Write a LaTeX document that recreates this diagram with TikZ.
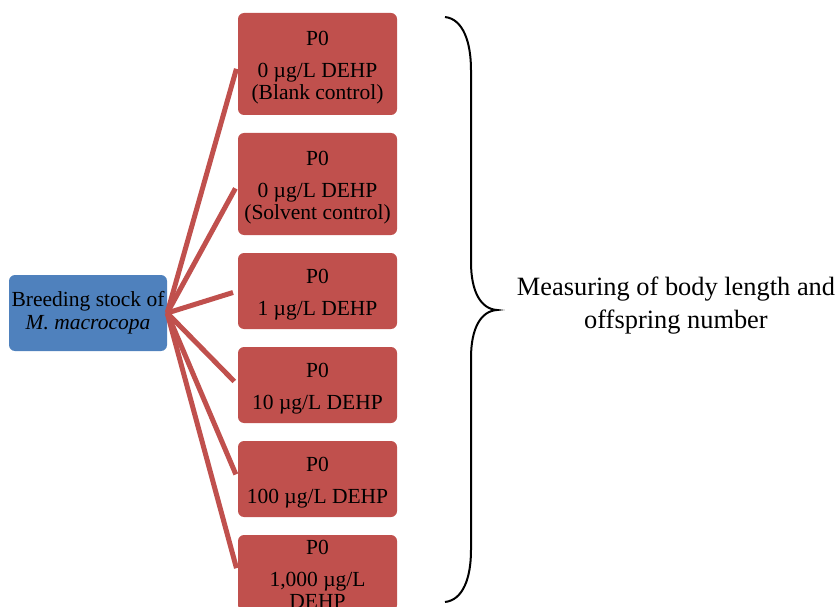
\documentclass[tikz,border=0pt]{standalone}
\usepackage{fontspec}
\setmainfont{Liberation Serif}
\definecolor{boxred}{HTML}{C0504D}
\definecolor{boxblue}{HTML}{4F81BD}
\begin{document}
\begin{tikzpicture}[x=1pt,y=-1pt,
  redbox/.style={fill=boxred, rounded corners=6pt, minimum width=159pt, inner sep=0pt},
  boxtext/.style={inner sep=0pt, align=center, font=\fontsize{21.5}{22}\selectfont},
  bluebox/.style={fill=boxblue, rounded corners=6pt, minimum width=158pt, minimum height=76pt, inner sep=0pt, align=center, font=\fontsize{21.5}{23}\selectfont},
  conn/.style={draw=boxred, line width=5pt, shorten >=5pt},
  brace/.style={draw=black, line width=2pt}]
\useasboundingbox (0,0) rectangle (836,607);
\node[bluebox] (src) at (88,313) {Breeding stock of\\\textit{M. macrocopa}};
\node[redbox, minimum height=102pt] (b1) at (317.5,64) {};
\node[redbox, minimum height=102pt] (b2) at (317.5,184) {};
\node[redbox, minimum height=76pt] (b3) at (317.5,291) {};
\node[redbox, minimum height=76pt] (b4) at (317.5,385) {};
\node[redbox, minimum height=76pt] (b5) at (317.5,479) {};
\node[redbox, minimum height=76pt] (b6) at (317.5,573) {};
\node[boxtext] (t1) at ([yshift=-4pt]b1.center) {P0\\[10pt]0 µg/L DEHP\\(Blank control)};
\node[boxtext] (t2) at ([yshift=-4pt]b2.center) {P0\\[10pt]0 µg/L DEHP\\(Solvent control)};
\node[boxtext] (t3) at ([yshift=-4pt]b3.center) {P0\\[10pt]1 µg/L DEHP};
\node[boxtext] (t4) at ([yshift=-4pt]b4.center) {P0\\[10pt]10 µg/L DEHP};
\node[boxtext] (t5) at ([yshift=-4pt]b5.center) {P0\\[10pt]100 µg/L DEHP};
\node[boxtext] (t6) at ([yshift=-1pt]b6.center) {P0\\[10pt]1,000 µg/L\\DEHP};
\foreach \b in {b1,b2,b3,b4,b5,b6} {\draw[conn] (src.east) -- (\b.west);}
\draw[brace] (445,17) .. controls (463,19) and (471,42) .. (471,70) -- (471,262)
  .. controls (471,292) and (481,309) .. (497,310)
  .. controls (481,311) and (471,328) .. (471,358) -- (471,550)
  .. controls (471,578) and (463,600) .. (445,602);
\node[font=\fontsize{26.4}{33}\selectfont, align=center] (lbl) at (676,306) {Measuring of body length and\\offspring number};
\end{tikzpicture}
\end{document}
